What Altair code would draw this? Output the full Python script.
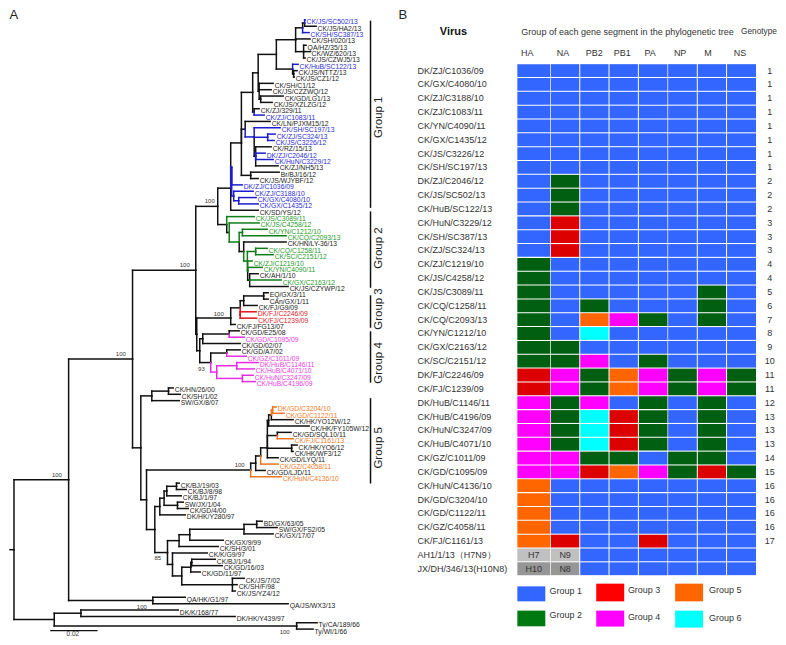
import altair as alt
import pandas as pd

FONT = "Liberation Sans"

# ---------- Panel A: tips of the tree, top to bottom ----------
tip_names = ["CK/JS/SC502/13","CK/JS/HA2/13","CK/SH/SC387/13","CK/SH/020/13","QA/HZ/35/13","CK/WZ/620/13","CK/JS/CZWJ5/13",
 "CK/HuB/SC122/13","CK/JS/NTTZ/13","CK/JS/CZ1/12","CK/SH/C1/12","CK/JS/CZZWQ/12","CK/GD/LG1/13","CK/JS/XZLZG/12","CK/ZJ/329/11",
 "CK/ZJ/C1083/11","CK/LN/PJXM15/12","CK/SH/SC197/13","CK/ZJ/SC324/13","CK/JS/C3226/12","CK/RZ/15/13","DK/ZJ/C2046/12",
 "CK/HuN/C3229/12","CK/ZJ/NH5/13","Br/BJ/16/12","CK/JS/WJYBF/12","DK/ZJ/C1036/09","CK/ZJ/C3188/10","CK/GX/C4080/10","CK/GX/C1435/12",
 "CK/SD/YS/12","CK/JS/C3089/11","CK/JS/C4258/12","CK/YN/C1212/10","CK/CQ/C2093/13","CK/HN/LY-36/13","CK/CQ/C1258/11","CK/SC/C2151/12",
 "CK/ZJ/C1219/10","CK/YN/C4090/11","CK/AH/1/10","CK/GX/C2163/12","CK/JS/CZYWP/12","EQ/GX/3/11","CAn/GX/1/11","CK/FJ/G9/09",
 "DK/FJ/C2246/09","CK/FJ/C1239/09","CK/FJ/FG13/07","CK/GD/E25/08","CK/GD/C1095/09","CK/GD/02/07","CK/GD/A7/02","CK/GZ/C1011/09",
 "DK/HuB/C1146/11","CK/HuB/C4071/10","CK/HuN/C3247/09","CK/HuB/C4196/09","CK/HN/26/00","CK/SH/1/02","SW/GX/8/07","DK/GD/C3204/10",
 "CK/GD/C1122/11","CK/HK/YO12W/12","CK/HK/FY105W/12","CK/GD/SQL10/11","CK/FJ/C1161/13","CK/HK/YO6/12","CK/HK/WF3/12","CK/GD/LYQ/11",
 "CK/GZ/C4058/11","CK/GD/LJD/11","CK/HuN/C4136/10","CK/BJ/19/03","CK/BJ/8/98","CK/BJ/1/97","SW/JX/1/04","CK/GD/4/00","DK/HK/Y280/97",
 "BD/GX/63/05","SW/GX/FS2/05","CK/GX/17/07","CK/GX/9/99","CK/SH/3/01","CK/K/G9/97","CK/BJ/1/94","CK/GD/16/03","CK/GD/11/97",
 "CK/JS/7/02","CK/SH/F/98","CK/JS/YZ4/12","QA/HK/G1/97","QA/JS/WX3/13","DK/K/168/77","DK/HK/Y439/97","Ty/CA/189/66","Ty/WI/1/66"]
tip_pos = [306,317,310,311,307,311,306,299,298,295,274,272,284,273,260,265,271,281,276,275,272,266,274,279,280,259,243,254,257,259,
 259,255,260,268,287,287,268,274,253,263,259,282,289,269,269,258,257,257.5,236,240,245,241,241,247,259,255,254,256,174,181,180,277,
 285,294,310,292,294,298,294,279,279,266,282,180,187,182,184,189,186,263,278,274,224,219,208,216,223,201,245,238,236,186,289,179,236,318,314]
tip_group = {"b":[0,2,7,15,17,18,19,21,22,26,27,28,29],"g":[31,32,33,34,36,37,38,39,41],"r":[46,47],
 "m":[50,53,54,55,56,57],"o":[61,62,66,70,72]}

# nested clades: (node position, children, group, node row override); ints are tips
tree = (13,[
 (67.7,[
  (131.7,[
   (195,[
    (217,[
     (230,[
      (240.7,[
       (252,[
        (257.5,[
         (275.7,[
          (295,[(302,[(304,[0,1]),2]),3,(303,[4,5,6])]),
          (292,[7,(293,[8,9])])]),
         (258.5,[10,11,(260,[12,13])])]),
        (253.5,[14,15])]),
       (244.5,[16,(253.5,[17,(267,[18,19],"b"),(255,[20,21,22,23])],"b",136.7)]),
       (250,[24,25])],None,142.7),
      (231,[26,(233,[27,(238,[28,29],"b")],"b")],"b",167),
      30],None,188),
     (226,[31,
      (228.5,[32,
       (238.5,[(241.7,[33,34],"g"),
        (243,[35,
         (246.7,[(255,[36,37],"g"),
          (247,[38,39,(249,[40,41,42])],"g")],"g")])],"g")])])]),
    (196,[
     (230,[(239.5,[(243,[(263,[43,44]),45]),(239.5,[46,47],"r")]),48],None,318),
     (199,[
      (202,[(228.5,[49,50]),51]),
      (210,[(226,[52,53]),
       (216,[(236,[54,55],"m"),(241.7,[56,57],"m")],"m")])])])]),
   (140,[
    (151,[(167.7,[58,59]),60]),
    (145.7,[
     (250,[(255,[(260,[(266.7,[
        (268,[(270.7,[(272,[61,62],"o"),63]),64]),
        (276.7,[65,66]),(291,[67,68]),69],None,448),70]),71]),72]),
     (154,[
      (159,[(163.3,[(166,[(175.7,[73,74]),75]),(176.7,[76,77])]),78]),
      (166.7,[
       (178.3,[(189,[(243.3,[(256,[79,80]),81]),82]),83]),
       (171.7,[84,(181,[(190,[(191,[85,86]),87]),(231.7,[88,89,90])])])])])])])]),
  (152,[91,92])]),
 (53.3,[(80,[93,94]),(296,[95,96])])])

support_text = ["100","100","100","100","100","93","100","85","100","100"]
support_pos = [209,184,120,56,218,200.7,239,157,141,284]
support_row = [201,265,354,475,314,369,465,558,607,632]

bracket_names = ["Group 1","Group 2","Group 3","Group 4","Group 5"]
bracket_top = [21,212,296,332,399]
bracket_bottom = [207,287,327,382,483]
bracket_label_row = [117,248,309,363,448]

# ---------- Panel B ----------
viruses = ["DK/ZJ/C1036/09","CK/GX/C4080/10","CK/ZJ/C3188/10","CK/ZJ/C1083/11","CK/YN/C4090/11","CK/GX/C1435/12","CK/JS/C3226/12",
 "CK/SH/SC197/13","DK/ZJ/C2046/12","CK/JS/SC502/13","CK/HuB/SC122/13","CK/HuN/C3229/12","CK/SH/SC387/13","CK/ZJ/SC324/13",
 "CK/ZJ/C1219/10","CK/JS/C4258/12","CK/JS/C3089/11","CK/CQ/C1258/11","CK/CQ/C2093/13","CK/YN/C1212/10","CK/GX/C2163/12",
 "CK/SC/C2151/12","DK/FJ/C2246/09","CK/FJ/C1239/09","DK/HuB/C1146/11","CK/HuB/C4196/09","CK/HuN/C3247/09","CK/HuB/C4071/10",
 "CK/GZ/C1011/09","CK/GD/C1095/09","CK/HuN/C4136/10","DK/GD/C3204/10","CK/GD/C1122/11","CK/GZ/C4058/11","CK/FJ/C1161/13",
 "AH1/1/13（H7N9）","JX/DH/346/13(H10N8)"]
segment_groups = ["11111111"]*8 + ["12111111"]*3 + ["13111111"]*3 + ["21111111"]*2 + ["21111121","21211121","21542121","21611111",
 "22111111","22412111","34254242","34254242","42412121","42632121","42632121","42632121","44221221","44354232"] + ["51111111"]*4 + ["53113111","HN111111","TE111111"]
genotypes = [1]*8+[2]*3+[3]*3+[4,4,5,6,7,8,9,10,11,11,12,13,13,13,14,15,16,16,16,16,17,"",""]
genes = ["HA","NA","PB2","PB1","PA","NP","M","NS"]
gene_left = [517,550.7,580,609.3,638.7,668,697.7,727]
gene_right = [550,579,608.3,637.7,667.3,696.7,726,756]
gene_label_pos = [527,562.7,594,622,650,680,708,740]
group_color = {"1":"#3366ff","2":"#005f10","3":"#dd0000","4":"#ff00ff","5":"#ff6600","6":"#00ffff",
               "H":"#c0c0c0","N":"#c0c0c0","T":"#969696","E":"#969696"}
special_text = {"H":"H7","N":"N9","T":"H10","E":"N8"}
legend_names = ["Group 1","Group 2","Group 3","Group 4","Group 5","Group 6"]
legend_colors = ["#3366ff","#007a10","#ff0000","#ff00ff","#ff6600","#00ffff"]
legend_left = [517,517,596,596,675,675]
legend_top = [586.7,611,584,611,584,611]
legend_bottom = [601.7,626.7,601.7,627,601.7,628]
legend_label_pos = [549.3,549.3,627.7,627.7,709,709]
legend_label_row = [591.7,615.7,590.7,617,590.7,618]

# ---------- tree layout ----------
line_col = {None:"#111111","b":"#1c1cd0","g":"#0f7d1a","r":"#e0141e","m":"#e62ee0","o":"#f2741e"}
text_col = {None:"#222222","b":"#2a2ad6","g":"#1f9a2c","r":"#e0202a","m":"#ea3ce0","o":"#f47a28"}
tipcol = {i:k for k,v in tip_group.items() for i in v}
ROW0, STEP = 19.5, 6.354
edges = []
def add(x, x2, y, y2, c):
    edges.append(dict(x=x, x2=x2, y=y, y2=y2, c=line_col[c], o=0 if c is None else 1))
def walk(n):
    if isinstance(n, int):
        return tip_pos[n]-1.5, ROW0+STEP*n, tipcol.get(n)
    x, kids = n[0], n[1]
    c = n[2] if len(n) > 2 else None
    res = [walk(k) for k in kids]
    y = n[3] if len(n) > 3 else (res[0][1]+res[-1][1])/2
    for cx, cy, cc in res:
        add(x, cx, cy, cy, cc)
        add(x, x, y, cy, cc)
    return x, y, c
_, ry, _ = walk(tree)
add(9, 13, ry, ry, None)
edge_df = pd.DataFrame(edges).sort_values("o", kind="stable")

X1 = alt.Scale(domain=[8,395], nice=False, zero=False)
X2 = alt.Scale(domain=[395,778], nice=False, zero=False)
YP = alt.Scale(domain=[8,637], reverse=True, nice=False, zero=False)
W1, W2, H = 387, 383, 629

def texts(df, xs, align="left", weight="normal", angle=0):
    return alt.Chart(df).mark_text(font=FONT, align=align, baseline="middle", fontWeight=weight, angle=angle).encode(
        x=alt.X("x:Q", scale=xs, axis=None), y=alt.Y("y:Q", scale=YP, axis=None),
        text="t:N", size=alt.Size("s:Q", scale=None, legend=None), color=alt.Color("c:N", scale=None, legend=None))

def rules(df, xs, w):
    return alt.Chart(df).mark_rule(strokeWidth=w, strokeCap="square").encode(
        x=alt.X("x:Q", scale=xs, axis=None), x2="x2:Q",
        y=alt.Y("y:Q", scale=YP, axis=None), y2="y2:Q",
        color=alt.Color("c:N", scale=None, legend=None))

tips_df = pd.DataFrame(dict(x=tip_pos, y=[ROW0+STEP*i+2.5 for i in range(len(tip_names))], t=tip_names, s=6.8,
                            c=[text_col[tipcol.get(i)] for i in range(len(tip_names))]))
supp_df = pd.DataFrame(dict(x=support_pos, y=support_row, t=support_text, s=6, c="#333333"))
scale_lab = pd.DataFrame(dict(x=[72], y=[634], t=["0.02"], s=[6.5], c=["#333333"]))
panel_a = pd.DataFrame(dict(x=[8.5], y=[15], t=["A"], s=[13], c=["#222222"]))
br_df = pd.DataFrame(dict(x=[370]*5, x2=[370]*5, y=bracket_top, y2=bracket_bottom, c="#111111"))
br_txt = pd.DataFrame(dict(x=[378]*5, y=bracket_label_row, t=bracket_names, s=11.5, c="#222222"))
bar_df = pd.DataFrame(dict(x=[50], x2=[96], y=[631], y2=[631], c=["#111111"]))

left = alt.layer(
    rules(edge_df, X1, 1.5), rules(br_df, X1, 1.5), rules(bar_df, X1, 1.3),
    texts(tips_df, X1), texts(panel_a, X1), texts(scale_lab, X1, "center"), texts(supp_df, X1, "center"),
    texts(br_txt, X1, "center", angle=270),
).properties(width=W1, height=H)

cells = []
for v, code in zip(viruses, segment_groups):
    for j, ch in enumerate(code):
        cells.append(dict(virus=v, x=gene_left[j], x2=gene_right[j], c=group_color[ch], t=special_text.get(ch, ""),
                          m=(gene_left[j]+gene_right[j])/2))
cell_df = pd.DataFrame(cells)
YB = alt.Scale(domain=viruses, range=[55.3, 568.0], paddingInner=0.075, paddingOuter=0.0375)
heat = alt.Chart(cell_df).mark_rect().encode(
    x=alt.X("x:Q", scale=X2, axis=None), x2="x2:Q",
    y=alt.Y("virus:N", scale=YB, axis=None),
    color=alt.Color("c:N", scale=None, legend=None))
cell_txt = alt.Chart(cell_df[cell_df.t != ""]).mark_text(font=FONT, fontSize=9, color="#333333", baseline="middle").encode(
    x=alt.X("m:Q", scale=X2, axis=None), y=alt.Y("virus:N", scale=YB, axis=None), text="t:N")
names_df = pd.DataFrame(dict(virus=viruses, x=417, t=viruses, g=[str(g) for g in genotypes], gx=769.7))
names = alt.Chart(names_df).mark_text(font=FONT, fontSize=9, color="#333333", align="left", baseline="middle").encode(
    x=alt.X("x:Q", scale=X2, axis=None), y=alt.Y("virus:N", scale=YB, axis=None), text="t:N")
geno = alt.Chart(names_df).mark_text(font=FONT, fontSize=9, color="#333333", align="center", baseline="middle").encode(
    x=alt.X("gx:Q", scale=X2, axis=None), y=alt.Y("virus:N", scale=YB, axis=None), text="g:N")

head_left = pd.DataFrame(dict(x=[521,741,398], y=[31.7,31.7,15], t=["Group of each gene segment in the phylogenetic tree","Genotype","B"],
                              s=[9.05,8.3,13], c=["#333333","#333333","#222222"]))
head_genes = pd.DataFrame(dict(x=gene_label_pos, y=53, t=genes, s=9, c="#333333"))
head_virus = pd.DataFrame(dict(x=[453], y=[32], t=["Virus"], s=[11], c=["#111111"]))
leg_txt = pd.DataFrame(dict(x=legend_label_pos, y=legend_label_row, t=legend_names, s=9, c="#333333"))
leg_df = pd.DataFrame(dict(x=legend_left, x2=[a+28 for a in legend_left], y=legend_top, y2=legend_bottom, c=legend_colors))
leg = alt.Chart(leg_df).mark_rect().encode(
    x=alt.X("x:Q", scale=X2, axis=None), x2="x2:Q",
    y=alt.Y("y:Q", scale=YP, axis=None), y2="y2:Q",
    color=alt.Color("c:N", scale=None, legend=None))

right = alt.layer(
    heat, cell_txt, names, geno, leg,
    texts(head_left, X2), texts(head_genes, X2, "center"), texts(head_virus, X2, "center", "bold"), texts(leg_txt, X2),
).resolve_scale(y="independent").properties(width=W2, height=H)

chart = alt.hconcat(left, right, spacing=0).properties(padding=0, background="white").configure_view(stroke=None)
chart.save("out.html", embed_options={"renderer": "svg", "actions": False})
